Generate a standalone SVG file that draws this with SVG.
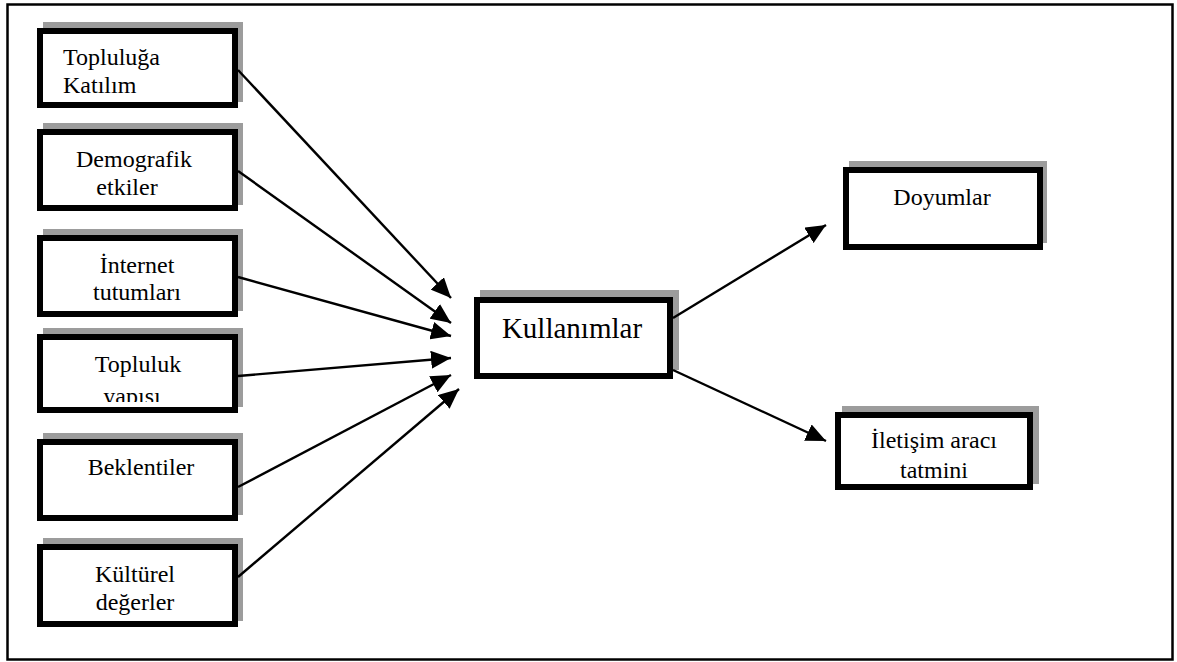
<svg xmlns="http://www.w3.org/2000/svg" width="1177" height="662" viewBox="0 0 1177 662">
<style>
.frame{fill:#fff;stroke:#000;stroke-width:2.5}
.shadow{fill:#9c9c9c}
.box{fill:#fff;stroke:#000;stroke-width:6}
.t{font-family:"Liberation Serif","Times New Roman",serif;font-size:24px;fill:#000}
.big{font-size:29px}
.c{text-anchor:middle}
.edge{stroke:#000;stroke-width:2.4;fill:none;marker-end:url(#ah)}
</style>
<defs>
<marker id="ah" markerUnits="userSpaceOnUse" markerWidth="22" markerHeight="18" viewBox="0 0 22 18" refX="20" refY="9" orient="auto">
<path d="M0,0 L20,9 L0,18 Z" fill="#000"/>
</marker>
<clipPath id="clip4"><rect x="40" y="337" width="195" height="65"/></clipPath>
</defs>
<rect class="frame" x="7.5" y="4.5" width="1165" height="655"/>

<g id="n1">
<rect class="shadow" x="43" y="22" width="200" height="80"/>
<rect class="box" x="40" y="31" width="195" height="74"/>
<text class="t" x="63" y="65">Topluluğa</text>
<text class="t" x="63" y="93">Katılım</text>
</g>
<g id="n2">
<rect class="shadow" x="43" y="123" width="200" height="82"/>
<rect class="box" x="40" y="132" width="195" height="76"/>
<text class="t c" x="134" y="167">Demografik</text>
<text class="t c" x="127" y="195">etkiler</text>
</g>
<g id="n3">
<rect class="shadow" x="43" y="229" width="200" height="82"/>
<rect class="box" x="40" y="238" width="195" height="76"/>
<text class="t c" x="137" y="273">İnternet</text>
<text class="t c" x="137" y="300">tutumları</text>
</g>
<g id="n4">
<rect class="shadow" x="43" y="328" width="200" height="79"/>
<rect class="box" x="40" y="337" width="195" height="73"/>
<text class="t c" x="138" y="372">Topluluk</text>
<text class="t c" x="132" y="404" clip-path="url(#clip4)">yapısı</text>
</g>
<g id="n5">
<rect class="shadow" x="43" y="433" width="200" height="82"/>
<rect class="box" x="40" y="442" width="195" height="76"/>
<text class="t c" x="141" y="475">Beklentiler</text>
</g>
<g id="n6">
<rect class="shadow" x="43" y="538" width="200" height="83"/>
<rect class="box" x="40" y="547" width="195" height="77"/>
<text class="t c" x="135" y="582">Kültürel</text>
<text class="t c" x="135" y="610">değerler</text>
</g>
<g id="n7">
<rect class="shadow" x="480" y="290" width="199" height="80"/>
<rect class="box" x="477" y="300" width="193" height="76"/>
<text class="t big c" x="572" y="338">Kullanımlar</text>
</g>
<g id="n8">
<rect class="shadow" x="849" y="161" width="198" height="82"/>
<rect class="box" x="846" y="170" width="194" height="77"/>
<text class="t c" x="942" y="205">Doyumlar</text>
</g>
<g id="n9">
<rect class="shadow" x="842" y="406" width="197" height="78"/>
<rect class="box" x="838" y="415" width="192" height="72"/>
<text class="t c" x="934" y="448">İletişim aracı</text>
<text class="t c" x="934" y="478">tatmini</text>
</g>

<g id="edges">
<line class="edge" x1="238" y1="70" x2="451" y2="298"/>
<line class="edge" x1="238" y1="171" x2="451" y2="323"/>
<line class="edge" x1="238" y1="277" x2="451" y2="336"/>
<line class="edge" x1="238" y1="376" x2="451" y2="358"/>
<line class="edge" x1="238" y1="487" x2="451" y2="375"/>
<line class="edge" x1="238" y1="577" x2="459" y2="389"/>
<line class="edge" x1="673" y1="318" x2="826" y2="225"/>
<line class="edge" x1="673" y1="370" x2="826" y2="441"/>
</g>
</svg>
